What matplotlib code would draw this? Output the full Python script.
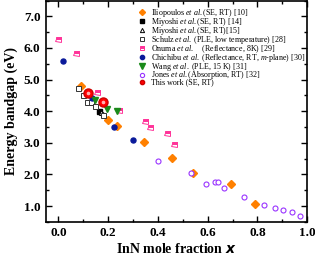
import matplotlib
matplotlib.use("Agg")
import matplotlib.pyplot as plt
from matplotlib.ticker import MultipleLocator

plt.rcParams['font.family'] = 'Liberation Serif'
plt.rcParams['mathtext.fontset'] = 'custom'
plt.rcParams['mathtext.rm'] = 'Liberation Serif'
plt.rcParams['mathtext.it'] = 'Liberation Serif:italic'
plt.rcParams['mathtext.bf'] = 'Liberation Serif:bold'

ilio_x = [0.09, 0.20, 0.235, 0.345, 0.455, 0.54, 0.695, 0.79]
ilio_y = [4.80, 3.73, 3.52, 3.02, 2.52, 2.05, 1.70, 1.08]
miy14_x = [0.165]
miy14_y = [4.02]
miy15_x = [0.172, 0.18]
miy15_y = [3.97, 3.90]
schulz_x = [0.08, 0.10, 0.115, 0.13, 0.148, 0.18]
schulz_y = [4.73, 4.52, 4.30, 4.30, 4.17, 3.88]
onuma_x = [0.0, 0.07, 0.155, 0.245, 0.35, 0.37, 0.435, 0.465]
onuma_y = [6.27, 5.83, 4.60, 4.03, 3.70, 3.50, 3.32, 2.97]
chichibu_x = [0.02, 0.135, 0.225, 0.30]
chichibu_y = [5.58, 4.42, 3.50, 3.09]
wang_x = [0.148, 0.195, 0.235]
wang_y = [4.36, 4.07, 4.02]
jones_x = [0.40, 0.535, 0.595, 0.63, 0.64, 0.665, 0.745, 0.825, 0.872, 0.904, 0.94, 0.972]
jones_y = [2.42, 2.05, 1.70, 1.76, 1.76, 1.58, 1.30, 1.04, 0.95, 0.88, 0.82, 0.69]
work_x = [0.12, 0.18]
work_y = [4.57, 4.28]

fig = plt.figure(figsize=(3.15, 2.62), dpi=100)
ax = fig.add_axes([0.146, 0.153, 0.829, 0.845])

ms = 3.6
handles = []
handles.append(ax.plot(ilio_x, ilio_y, 'D', ls='none', color='#ff8000', ms=ms,
                       label=r'Iliopoulos $\it{et\ al.}$(SE, RT) [10]')[0])
handles.append(ax.plot(miy14_x, miy14_y, 's', ls='none', color='black', ms=ms,
                       label=r'Miyoshi $\it{et\ al.}$(SE, RT) [14]')[0])
handles.append(ax.plot(miy15_x, miy15_y, '^', ls='none', mfc='white', mec='black', mew=0.7, ms=ms,
                       label=r'Miyoshi $\it{et\ al.}$(SE, RT)[15]')[0])
handles.append(ax.plot(schulz_x, schulz_y, 's', ls='none', mfc='white', mec='#333333', mew=0.7, ms=ms,
                       label=r'Schulz $\it{et\ al.}$ (PLE, low temperature) [28]')[0])
handles.append(ax.plot(onuma_x, onuma_y, 's', ls='none', fillstyle='top', color='#ff3399',
                       mfc='#ff3399', mfcalt='white', mec='#ff3399', mew=0.7, ms=ms,
                       label=r'Onuma $\it{et\ al.}$    (Reflectance, 8K) [29]')[0])
handles.append(ax.plot(chichibu_x, chichibu_y, 'o', ls='none', color='#0a1a9a', ms=ms,
                       label=r'Chichibu $\it{et\ al.}$ (Reflectance, RT, $\it{m}$-plane) [30]')[0])
handles.append(ax.plot(wang_x, wang_y, 'v', ls='none', color='#1a8a1a', ms=ms + 0.8,
                       label=r'Wang $\it{et\ al.}$ (PLE, 15 K) [31]')[0])
handles.append(ax.plot(jones_x, jones_y, 'o', ls='none', mfc='white', mec='#9933ff', mew=0.8, ms=ms,
                       label=r'Jones $\it{et\ al.}$(Absorption, RT) [32]')[0])
ax.plot(work_x, work_y, 'o', ls='none', color='#ff0000', mec='#cc0000', ms=6.5)
ax.plot(work_x, work_y, 'o', ls='none', color='#ffb0b0', ms=1.6)
# smaller proxy for the legend entry of this work
work_proxy, = ax.plot([], [], 'o', ls='none', color='#ff0000', mec='#cc0000', ms=ms,
                      label='This work (SE, RT)')
handles.append(work_proxy)

ax.set_xlim(-0.05, 1.0)
ax.set_ylim(0.5, 7.5)
ax.xaxis.set_minor_locator(MultipleLocator(0.1))
ax.yaxis.set_minor_locator(MultipleLocator(0.5))
ax.set_xticks([0.0, 0.2, 0.4, 0.6, 0.8, 1.0])
ax.set_yticks([1, 2, 3, 4, 5, 6, 7])
ax.set_xticklabels(['0.0', '0.2', '0.4', '0.6', '0.8', '1.0'])
ax.set_yticklabels(['1.0', '2.0', '3.0', '4.0', '5.0', '6.0', '7.0'])
ax.tick_params(which='both', direction='in', top=True, right=True, width=1.0)
ax.tick_params(which='major', length=4, labelsize=9.5, pad=4)
ax.tick_params(which='minor', length=2.5)
for lab in ax.get_xticklabels() + ax.get_yticklabels():
    lab.set_fontweight('bold')
for sp in ax.spines.values():
    sp.set_linewidth(1.2)

ax.set_xlabel(r'InN mole fraction $\mathbfit{x}$', fontsize=10, fontweight='bold', labelpad=2)
ax.set_ylabel('Energy bandgap (eV)', fontsize=10, fontweight='bold', labelpad=4)

ax.legend(handles=handles, loc='upper left', bbox_to_anchor=(0.33, 0.995), frameon=False,
          fontsize=5.8, handlelength=1.0, handletextpad=0.6, markerscale=0.85,
          labelspacing=-0.38, borderaxespad=0.3, numpoints=1)

fig.savefig('out.png', dpi=100)
